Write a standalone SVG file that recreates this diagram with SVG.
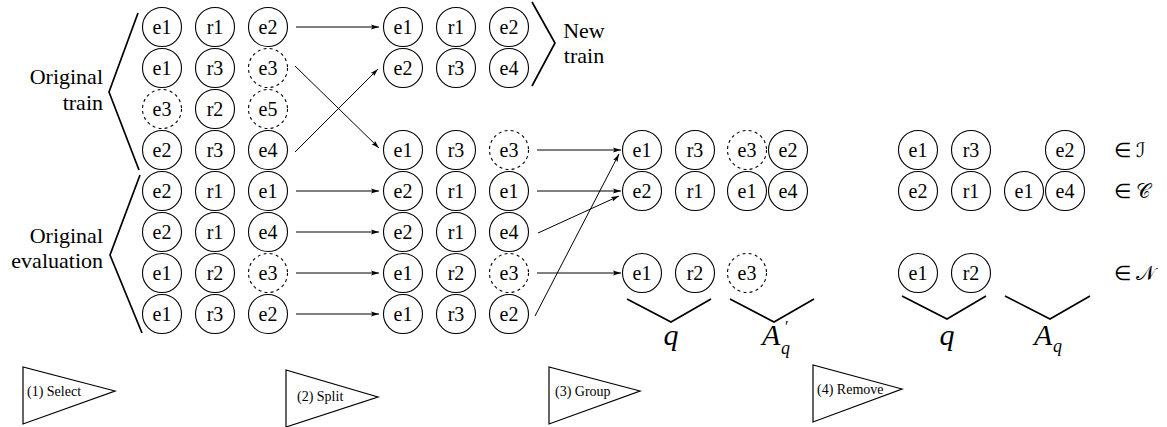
<svg xmlns="http://www.w3.org/2000/svg" width="1167" height="427" viewBox="0 0 1167 427">
<style>
text{font-family:'Liberation Serif',serif}
.n circle{fill:#fff;stroke:#000;stroke-width:1.1}
.n.d circle{stroke-dasharray:3 3.2}
.n text{font-size:20px;text-anchor:middle;fill:#000}
.br{fill:none;stroke:#000;stroke-width:1.7}
.lbl{font-size:22px;fill:#000}
.ar{stroke:#000;stroke-width:1;fill:none;marker-end:url(#ah)}
.tri polygon{fill:#fff;stroke:#000;stroke-width:1.2}
.tri text{font-size:14px;fill:#000}
.m{font-style:italic;font-size:30px;fill:#000}
.el{font-size:20px;fill:#000}
</style>
<defs>
<marker id="ah" markerWidth="9" markerHeight="6" refX="8" refY="3" orient="auto" markerUnits="userSpaceOnUse">
<path d="M0,0.6 L8,3 L0,5.4 L1.5,3 z" fill="#000"/>
</marker>
</defs>

<g id="orig-train">
<polyline class="br" points="138,13 109,92 139,170"/>
<text class="lbl" x="103" y="84" text-anchor="end">Original</text>
<text class="lbl" x="103" y="110" text-anchor="end">train</text>
</g>
<g id="orig-eval">
<polyline class="br" points="140,175 110,255 142,333"/>
<text class="lbl" x="103" y="243" text-anchor="end">Original</text>
<text class="lbl" x="103" y="268" text-anchor="end">evaluation</text>
</g>
<g id="new-train">
<polyline class="br" points="532,2 555,43 532,86"/>
<text class="lbl" x="584" y="38" text-anchor="middle">New</text>
<text class="lbl" x="584" y="63" text-anchor="middle">train</text>
</g>

<g id="L1a" class="n"><circle cx="162" cy="27" r="19.5"/><text x="162" y="34">e1</text></g>
<g id="L1b" class="n"><circle cx="215" cy="27" r="19.5"/><text x="215" y="34">r1</text></g>
<g id="L1c" class="n"><circle cx="268" cy="27" r="19.5"/><text x="268" y="34">e2</text></g>
<g id="L2a" class="n"><circle cx="162" cy="68" r="19.5"/><text x="162" y="75">e1</text></g>
<g id="L2b" class="n"><circle cx="215" cy="68" r="19.5"/><text x="215" y="75">r3</text></g>
<g id="L2c" class="n d"><circle cx="268" cy="68" r="19.5"/><text x="268" y="75">e3</text></g>
<g id="L3a" class="n d"><circle cx="162" cy="109" r="19.5"/><text x="162" y="116">e3</text></g>
<g id="L3b" class="n"><circle cx="215" cy="109" r="19.5"/><text x="215" y="116">r2</text></g>
<g id="L3c" class="n d"><circle cx="268" cy="109" r="19.5"/><text x="268" y="116">e5</text></g>
<g id="L4a" class="n"><circle cx="162" cy="150" r="19.5"/><text x="162" y="157">e2</text></g>
<g id="L4b" class="n"><circle cx="215" cy="150" r="19.5"/><text x="215" y="157">r3</text></g>
<g id="L4c" class="n"><circle cx="268" cy="150" r="19.5"/><text x="268" y="157">e4</text></g>
<g id="L5a" class="n"><circle cx="162" cy="191" r="19.5"/><text x="162" y="198">e2</text></g>
<g id="L5b" class="n"><circle cx="215" cy="191" r="19.5"/><text x="215" y="198">r1</text></g>
<g id="L5c" class="n"><circle cx="268" cy="191" r="19.5"/><text x="268" y="198">e1</text></g>
<g id="L6a" class="n"><circle cx="162" cy="232" r="19.5"/><text x="162" y="239">e2</text></g>
<g id="L6b" class="n"><circle cx="215" cy="232" r="19.5"/><text x="215" y="239">r1</text></g>
<g id="L6c" class="n"><circle cx="268" cy="232" r="19.5"/><text x="268" y="239">e4</text></g>
<g id="L7a" class="n"><circle cx="162" cy="273" r="19.5"/><text x="162" y="280">e1</text></g>
<g id="L7b" class="n"><circle cx="215" cy="273" r="19.5"/><text x="215" y="280">r2</text></g>
<g id="L7c" class="n d"><circle cx="268" cy="273" r="19.5"/><text x="268" y="280">e3</text></g>
<g id="L8a" class="n"><circle cx="162" cy="314" r="19.5"/><text x="162" y="321">e1</text></g>
<g id="L8b" class="n"><circle cx="215" cy="314" r="19.5"/><text x="215" y="321">r3</text></g>
<g id="L8c" class="n"><circle cx="268" cy="314" r="19.5"/><text x="268" y="321">e2</text></g>

<g id="M1a" class="n"><circle cx="403" cy="27" r="19.5"/><text x="403" y="34">e1</text></g>
<g id="M1b" class="n"><circle cx="456" cy="27" r="19.5"/><text x="456" y="34">r1</text></g>
<g id="M1c" class="n"><circle cx="509" cy="27" r="19.5"/><text x="509" y="34">e2</text></g>
<g id="M2a" class="n"><circle cx="403" cy="68" r="19.5"/><text x="403" y="75">e2</text></g>
<g id="M2b" class="n"><circle cx="456" cy="68" r="19.5"/><text x="456" y="75">r3</text></g>
<g id="M2c" class="n"><circle cx="509" cy="68" r="19.5"/><text x="509" y="75">e4</text></g>
<g id="M3a" class="n"><circle cx="403" cy="150" r="19.5"/><text x="403" y="157">e1</text></g>
<g id="M3b" class="n"><circle cx="456" cy="150" r="19.5"/><text x="456" y="157">r3</text></g>
<g id="M3c" class="n d"><circle cx="509" cy="150" r="19.5"/><text x="509" y="157">e3</text></g>
<g id="M4a" class="n"><circle cx="403" cy="191" r="19.5"/><text x="403" y="198">e2</text></g>
<g id="M4b" class="n"><circle cx="456" cy="191" r="19.5"/><text x="456" y="198">r1</text></g>
<g id="M4c" class="n"><circle cx="509" cy="191" r="19.5"/><text x="509" y="198">e1</text></g>
<g id="M5a" class="n"><circle cx="403" cy="232" r="19.5"/><text x="403" y="239">e2</text></g>
<g id="M5b" class="n"><circle cx="456" cy="232" r="19.5"/><text x="456" y="239">r1</text></g>
<g id="M5c" class="n"><circle cx="509" cy="232" r="19.5"/><text x="509" y="239">e4</text></g>
<g id="M6a" class="n"><circle cx="403" cy="273" r="19.5"/><text x="403" y="280">e1</text></g>
<g id="M6b" class="n"><circle cx="456" cy="273" r="19.5"/><text x="456" y="280">r2</text></g>
<g id="M6c" class="n d"><circle cx="509" cy="273" r="19.5"/><text x="509" y="280">e3</text></g>
<g id="M7a" class="n"><circle cx="403" cy="314" r="19.5"/><text x="403" y="321">e1</text></g>
<g id="M7b" class="n"><circle cx="456" cy="314" r="19.5"/><text x="456" y="321">r3</text></g>
<g id="M7c" class="n"><circle cx="509" cy="314" r="19.5"/><text x="509" y="321">e2</text></g>

<g id="G1a" class="n"><circle cx="642" cy="150" r="19.5"/><text x="642" y="157">e1</text></g>
<g id="G1b" class="n"><circle cx="695" cy="150" r="19.5"/><text x="695" y="157">r3</text></g>
<g id="G1c" class="n d"><circle cx="747" cy="150" r="19.5"/><text x="747" y="157">e3</text></g>
<g id="G1d" class="n"><circle cx="788" cy="150" r="19.5"/><text x="788" y="157">e2</text></g>
<g id="G2a" class="n"><circle cx="642" cy="191" r="19.5"/><text x="642" y="198">e2</text></g>
<g id="G2b" class="n"><circle cx="695" cy="191" r="19.5"/><text x="695" y="198">r1</text></g>
<g id="G2c" class="n"><circle cx="747" cy="191" r="19.5"/><text x="747" y="198">e1</text></g>
<g id="G2d" class="n"><circle cx="788" cy="191" r="19.5"/><text x="788" y="198">e4</text></g>
<g id="G3a" class="n"><circle cx="642" cy="273" r="19.5"/><text x="642" y="280">e1</text></g>
<g id="G3b" class="n"><circle cx="695" cy="273" r="19.5"/><text x="695" y="280">r2</text></g>
<g id="G3c" class="n d"><circle cx="747" cy="273" r="19.5"/><text x="747" y="280">e3</text></g>

<g id="R1a" class="n"><circle cx="918" cy="150" r="19.5"/><text x="918" y="157">e1</text></g>
<g id="R1b" class="n"><circle cx="971" cy="150" r="19.5"/><text x="971" y="157">r3</text></g>
<g id="R1d" class="n"><circle cx="1065" cy="150" r="19.5"/><text x="1065" y="157">e2</text></g>
<g id="R2a" class="n"><circle cx="918" cy="191" r="19.5"/><text x="918" y="198">e2</text></g>
<g id="R2b" class="n"><circle cx="971" cy="191" r="19.5"/><text x="971" y="198">r1</text></g>
<g id="R2c" class="n"><circle cx="1024" cy="191" r="19.5"/><text x="1024" y="198">e1</text></g>
<g id="R2d" class="n"><circle cx="1065" cy="191" r="19.5"/><text x="1065" y="198">e4</text></g>
<g id="R3a" class="n"><circle cx="918" cy="273" r="19.5"/><text x="918" y="280">e1</text></g>
<g id="R3b" class="n"><circle cx="971" cy="273" r="19.5"/><text x="971" y="280">r2</text></g>

<g id="set-labels">
<text class="el" x="1114" y="157">∈ ℐ</text>
<text class="el" x="1114" y="198">∈ 𝒞</text>
<text class="el" x="1114" y="280">∈ 𝒩</text>
</g>

<g id="brace-q1"><polyline class="br" points="627,299 671,322 711,299"/><text class="m" x="671" y="345" text-anchor="middle">q</text></g>
<g id="brace-a1"><polyline class="br" points="730,299 774,322 814,299"/><text class="m" x="762" y="345">A<tspan font-size="16" font-style="normal" x="785" y="332">′</tspan><tspan font-size="18" x="781" y="354">q</tspan></text></g>
<g id="brace-q2"><polyline class="br" points="902,296 947,319 986,296"/><text class="m" x="947" y="345" text-anchor="middle">q</text></g>
<g id="brace-a2"><polyline class="br" points="1005,296 1050,319 1090,296"/><text class="m" x="1034" y="345">A<tspan font-size="18" x="1053" y="352">q</tspan></text></g>

<g id="connectors">
<line class="ar" x1="296" y1="27" x2="379" y2="27"/>
<line class="ar" x1="295" y1="66" x2="379" y2="148"/>
<line class="ar" x1="295" y1="152" x2="378" y2="69"/>
<line class="ar" x1="296" y1="191" x2="379" y2="191"/>
<line class="ar" x1="296" y1="232" x2="379" y2="232"/>
<line class="ar" x1="296" y1="273" x2="379" y2="273"/>
<line class="ar" x1="296" y1="314" x2="379" y2="314"/>
<line class="ar" x1="537" y1="150" x2="621" y2="150"/>
<line class="ar" x1="537" y1="191" x2="621" y2="191"/>
<line class="ar" x1="538" y1="233" x2="619" y2="196"/>
<line class="ar" x1="537" y1="273" x2="621" y2="273"/>
<line class="ar" x1="535" y1="316" x2="619" y2="154"/>
</g>

<g id="step1" class="tri"><polygon points="23,367 23,424 115,391"/><text x="27" y="396">(1) Select</text></g>
<g id="step2" class="tri"><polygon points="286,370 286,427 378,397"/><text x="297" y="401">(2) Split</text></g>
<g id="step3" class="tri"><polygon points="549,367 549,424 640,391"/><text x="555" y="396">(3) Group</text></g>
<g id="step4" class="tri"><polygon points="813,365 813,422 902,389"/><text x="817" y="394">(4) Remove</text></g>
</svg>
